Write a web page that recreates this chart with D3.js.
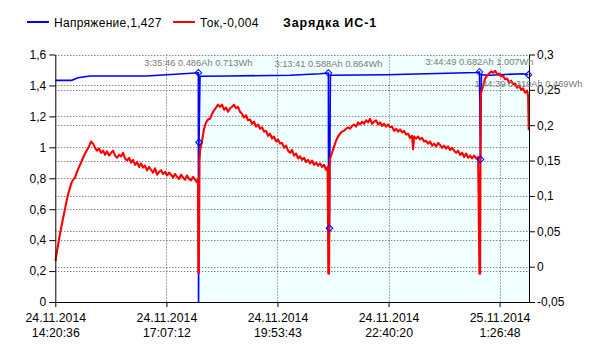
<!DOCTYPE html>
<html><head><meta charset="utf-8">
<script src="https://cdn.jsdelivr.net/npm/d3@7"></script>
<style>
body{margin:0;background:#fff}
svg{display:block}
text{font-family:"Liberation Sans",Arial,sans-serif}
</style>
</head><body>
<svg id="chart" width="598" height="358"></svg>
<script>
// ---------- DATA ----------
const startLabel = "24.11.2014 14:20:36";
const endMinute = 710.3;               // minutes after start at right edge of axis
const xTickLabels = ["24.11.2014 14:20:36","24.11.2014 17:07:12","24.11.2014 19:53:43","24.11.2014 22:40:20","25.11.2014 1:26:48"];
const leftTicks  = [0,0.2,0.4,0.6,0.8,1,1.2,1.4,1.6];
const rightTicks = [-0.05,0,0.05,0.1,0.15,0.2,0.25,0.3];
const legendNames = ["Напряжение,1,427","Ток,-0,004"];
const chartTitle = "Зарядка ИС-1";

// voltage [minute, V]
const voltage = [[0,1.433],[24.6,1.433],[34,1.450],[52,1.461],[137,1.461],[167,1.469],[192,1.476],[214.5,1.482],[214.8,0],
 [215.5,1.032],[217,1.459],[260,1.461],[352,1.466],[397,1.476],[409.5,1.480],[409.8,0.19],
 [411,0.476],[412.5,1.466],[497,1.469],[632,1.484],[636,1.487],
 [637.5,0.922],[639,1.469],[652,1.466],[701,1.476],[709.5,1.469]];

// current per charge cycle [minute, A]
const current1 = [[0.3,0.008],[2.6,0.022],[5.6,0.039],[8.6,0.054],[11.6,0.068],[14.6,0.082],[17.6,0.096],[20.6,0.107],[23.6,0.117],[26.6,0.123],[29.6,0.126],[32.6,0.134],[35.6,0.141],[38.6,0.147],[41.6,0.154],[44.6,0.160],[47.6,0.165],[50.6,0.170],[53.6,0.177],[56.6,0.174],[59.6,0.168],[62.6,0.164],[65.6,0.167],[68.6,0.161],[71.6,0.164],[74.6,0.158],[77.6,0.163],[80.6,0.157],[83.6,0.161],[86.6,0.164],[89.6,0.157],[92.6,0.154],[95.6,0.158],[98.6,0.156],[101.6,0.161],[104.6,0.153],[107.6,0.150],[110.6,0.154],[113.6,0.147],[116.6,0.151],[119.6,0.144],[122.6,0.148],[125.6,0.141],[128.6,0.146],[131.6,0.140],[134.6,0.143],[137.6,0.136],[140.6,0.141],[143.6,0.137],[146.6,0.133],[149.6,0.139],[152.6,0.130],[155.6,0.134],[158.6,0.136],[161.6,0.131],[164.6,0.134],[167.6,0.129],[170.6,0.133],[173.6,0.130],[176.6,0.126],[179.6,0.131],[182.6,0.127],[185.6,0.124],[188.6,0.130],[191.6,0.126],[194.6,0.123],[197.6,0.129],[200.6,0.124],[203.6,0.122],[206.6,0.127],[209.6,0.123],[212.6,0.119],[214.0,0.124],[214.5,-0.009]];
const current2 = [[215.2,-0.009],[216.3,0.150],[217.0,0.164],[220,0.178],[223,0.195],[226,0.204],[229,0.208],[232,0.209],[235,0.216],[238,0.221],[241,0.225],[244,0.229],[247,0.226],[250,0.229],[253,0.222],[256,0.225],[259,0.219],[262,0.224],[265,0.226],[268,0.229],[271,0.224],[274,0.226],[277,0.219],[280,0.216],[283,0.211],[286,0.214],[289,0.207],[292,0.208],[295,0.202],[298,0.205],[301,0.198],[304,0.201],[307,0.195],[310,0.197],[313,0.191],[316,0.192],[319,0.185],[322,0.188],[325,0.181],[328,0.184],[331,0.177],[334,0.180],[337,0.174],[340,0.175],[343,0.168],[346,0.171],[349,0.164],[352,0.161],[355,0.165],[358,0.157],[361,0.160],[364,0.153],[367,0.156],[370,0.151],[373,0.154],[376,0.148],[379,0.151],[382,0.146],[385,0.150],[388,0.144],[391,0.147],[394,0.143],[397,0.146],[400,0.141],[403,0.144],[406,0.137],[408.3,0.141],[409.5,-0.010]];
const current3 = [[410.5,-0.010],[411.3,0.143],[412,0.153],[415,0.161],[418,0.170],[421,0.178],[424,0.184],[427,0.188],[430,0.191],[433,0.192],[436,0.195],[439,0.197],[442,0.195],[445,0.199],[448,0.201],[451,0.198],[454,0.204],[457,0.201],[460,0.205],[463,0.202],[466,0.207],[469,0.204],[472,0.209],[475,0.202],[478,0.205],[481,0.207],[484,0.201],[487,0.204],[490,0.199],[493,0.202],[496,0.198],[499,0.201],[502,0.197],[505,0.198],[508,0.192],[511,0.195],[514,0.191],[517,0.194],[520,0.190],[523,0.192],[526,0.187],[529,0.188],[532,0.182],[535,0.185],[536.5,0.166],[538,0.184],[541,0.181],[544,0.184],[547,0.180],[550,0.182],[553,0.177],[556,0.178],[559,0.174],[562,0.177],[565,0.171],[568,0.174],[571,0.170],[574,0.175],[577,0.172],[580,0.168],[583,0.171],[586,0.167],[589,0.170],[592,0.165],[595,0.168],[598,0.164],[601,0.161],[604,0.164],[607,0.158],[610,0.161],[613,0.155],[616,0.160],[619,0.154],[622,0.157],[625,0.153],[628,0.157],[631,0.153],[634,0.155],[636,-0.010]];
const current4 = [[637,-0.010],[637.8,0.235],[638.5,0.246],[641.5,0.256],[644.5,0.266],[647.5,0.270],[650.5,0.273],[653.5,0.276],[656.5,0.274],[659.5,0.277],[662.5,0.272],[665.5,0.273],[668.5,0.269],[671.5,0.270],[674.5,0.265],[677.5,0.266],[680.5,0.260],[683.5,0.263],[686.5,0.258],[689.5,0.259],[692.5,0.253],[695.5,0.256],[698.5,0.250],[701.5,0.252],[704.5,0.246],[707.5,0.249],[709,0.241],[709.9,0.193]];

// cycle markers
const cycleEnds   = [[214.5,1.482],[409.5,1.480],[636,1.487],[709.5,1.469]];
const cycleStarts = [[215.5,1.032],[411,0.476],[637.5,0.922]];
const cycleLabels = ["3:35:46 0.486Ah 0.713Wh","3:13:41 0.588Ah 0.864Wh","3:44:49 0.682Ah 1.007Wh","1:44:39 0.319Ah 0.469Wh"];
const labelBelow  = [false,false,false,true];
const shadedFrom  = 214.8;   // minute where highlighted region begins

// ---------- CHART ----------
const svg = d3.select("#chart");
const parse = d3.timeParse("%d.%m.%Y %H:%M:%S");
const t0 = parse(startLabel);
const toDate = m => new Date(t0.getTime() + m*60000);

const L = 55.3, R = 529, T = 54.5, B = 302;
const x  = d3.scaleTime().domain([t0, toDate(endMinute)]).range([L, R]);
const yL = d3.scaleLinear().domain([0,1.6]).range([B, T]);
const yR = d3.scaleLinear().domain([-0.05,0.3]).range([B, T]);
const fmt = v => String(v).replace(".", ",");

// shaded region
svg.append("rect")
  .attr("x", x(toDate(shadedFrom))).attr("y", T)
  .attr("width", R - x(toDate(shadedFrom))).attr("height", B - T)
  .attr("fill", "#f0ffff");

// grid
const grid = svg.append("g").attr("stroke", "#555").attr("stroke-width", 1).attr("stroke-dasharray", "1,2");
leftTicks.filter(v => v > 0).forEach(v => {
  const yy = Math.round(yL(v)) + 0.5;
  grid.append("line").attr("x1", L).attr("x2", R).attr("y1", yy).attr("y2", yy);
});
rightTicks.filter(v => v > -0.05 && v < 0.3).forEach(v => {
  const yy = Math.round(yR(v)) + 0.5;
  grid.append("line").attr("x1", L).attr("x2", R).attr("y1", yy).attr("y2", yy);
});
const tickDates = xTickLabels.map(parse);
tickDates.slice(1).forEach(d => {
  const xx = Math.round(x(d)) + 0.5;
  grid.append("line").attr("x1", xx).attr("x2", xx).attr("y1", T).attr("y2", B);
});

// voltage line
const lineV = d3.line().x(d => x(toDate(d[0]))).y(d => yL(d[1]));
svg.append("path").datum(voltage).attr("d", lineV)
  .attr("fill", "none").attr("stroke", "#0000ff").attr("stroke-width", 1.6);

// current line
const current = current1.concat(current2, current3, current4);
const lineC = d3.line().x(d => x(toDate(d[0]))).y(d => yR(d[1]));
svg.append("path").datum(current).attr("d", lineC)
  .attr("fill", "none").attr("stroke", "#ff0000").attr("stroke-width", 2.1).attr("stroke-linejoin","round");

// markers
const diamond = d3.symbol().type(d3.symbolSquare).size(22);
svg.append("g").selectAll("path").data(cycleEnds.concat(cycleStarts)).join("path")
  .attr("d", diamond)
  .attr("transform", d => `translate(${x(toDate(d[0]))},${yL(d[1])}) rotate(45)`)
  .attr("fill", "none").attr("stroke", "#0000ff").attr("stroke-width", 1);

// axes
const axL = svg.append("g").attr("transform", `translate(${L},0)`)
  .call(d3.axisLeft(yL).tickValues(leftTicks).tickSize(6).tickSizeOuter(0).tickFormat(fmt));
const axR = svg.append("g").attr("transform", `translate(${R},0)`)
  .call(d3.axisRight(yR).tickValues(rightTicks).tickSize(6).tickSizeOuter(0).tickPadding(2).tickFormat(fmt));
const axB = svg.append("g").attr("transform", `translate(0,${B})`)
  .call(d3.axisBottom(x).tickValues(tickDates).tickSize(5).tickSizeOuter(0).tickFormat(() => ""));
[axL, axR, axB].forEach(a => {
  a.selectAll("path,line").attr("stroke", "#000").attr("stroke-width", 1);
  a.selectAll("text").attr("font-size", 12).attr("fill", "#000")
    .style("font-family", '"Liberation Sans",Arial,sans-serif');
});
axB.selectAll(".tick").each(function(d, i) {
  const parts = xTickLabels[i].split(" ");
  const g = d3.select(this);
  g.append("text").attr("y", 20).attr("text-anchor", "middle").attr("font-size", 12.3).attr("fill", "#000").text(parts[0]);
  g.append("text").attr("y", 35).attr("text-anchor", "middle").attr("font-size", 12.3).attr("fill", "#000").text(parts[1]);
});

// cycle annotations
svg.append("g").selectAll("text").data(cycleEnds).join("text")
  .attr("x", d => x(toDate(d[0])))
  .attr("y", (d, i) => yL(d[1]) + (labelBelow[i] ? 12.5 : -6.5))
  .attr("text-anchor", "middle").attr("font-size", 9.3).attr("fill", "#7a7a7a")
  .text((d, i) => cycleLabels[i]);

// legend
const legendColors = ["#0000ff", "#ff0000"];
const legendX = [27, 173];
legendNames.forEach((n, i) => {
  svg.append("line").attr("x1", legendX[i]).attr("x2", legendX[i] + 22).attr("y1", 22).attr("y2", 22)
    .attr("stroke", legendColors[i]).attr("stroke-width", 2);
  svg.append("text").attr("x", legendX[i] + 27).attr("y", 26.5).attr("font-size", 12).attr("letter-spacing", 0.3).attr("fill", "#000").text(n);
});
svg.append("text").attr("x", 283).attr("y", 26.5).attr("font-size", 12.5).attr("letter-spacing", 0.9).attr("font-weight", "bold").attr("fill", "#000").text(chartTitle);
</script>
</body></html>
